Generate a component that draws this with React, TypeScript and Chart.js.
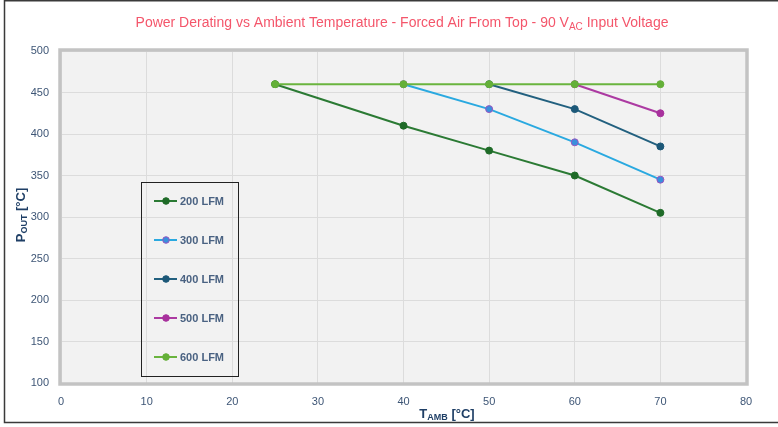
import React, { useEffect, useRef } from "react";
import { Chart, registerables } from "chart.js";

Chart.register(...registerables);

const seriesNames = ["200 LFM", "300 LFM", "400 LFM", "500 LFM", "600 LFM"];
const temps200 = [25, 40, 50, 60, 70];
const pout200 = [460, 410, 380, 350, 305];
const temps300 = [40, 50, 60, 70];
const pout300 = [460, 430, 390, 345];
const temps400 = [50, 60, 70];
const pout400 = [460, 430, 385];
const temps500 = [60, 70];
const pout500 = [460, 425];
const temps600 = [25, 40, 50, 60, 70];
const pout600 = [460, 460, 460, 460, 460];

const lineColors = ["#2b7a34", "#2aa9e0", "#22607f", "#ac3aa2", "#6ab43e"];
const pointFills = ["#1f6b28", "#3a8fdc", "#1c5878", "#a8319d", "#64b038"];
const pointBorders = ["#1f6b28", "#9a55c0", "#1c5878", "#a8319d", "#64b038"];

const xTicks = [0, 10, 20, 30, 40, 50, 60, 70, 80];
const yTicks = [100, 150, 200, 250, 300, 350, 400, 450, 500];

const FONT = "'Liberation Sans', Arial, sans-serif";
const TEXT_COLOR = "#3e5676";

function pts(xs: number[], ys: number[]) {
  return xs.map((x, i) => ({ x, y: ys[i] }));
}

export default function App() {
  const ref = useRef<HTMLCanvasElement | null>(null);

  useEffect(() => {
    if (!ref.current) return;
    const data = [
      pts(temps200, pout200),
      pts(temps300, pout300),
      pts(temps400, pout400),
      pts(temps500, pout500),
      pts(temps600, pout600),
    ];
    const orders = [5, 4, 3, 2, 1];

    const decor = {
      id: "decor",
      beforeDraw(chart: any) {
        const { ctx, chartArea: a } = chart;
        ctx.save();
        ctx.fillStyle = "#ffffff";
        ctx.fillRect(0, 0, chart.width, chart.height);
        ctx.fillStyle = "#f2f2f2";
        ctx.fillRect(a.left, a.top, a.right - a.left, a.bottom - a.top);
        ctx.restore();
      },
      beforeDatasetsDraw(chart: any) {
        const { ctx, chartArea: a } = chart;
        ctx.save();
        ctx.strokeStyle = "#c3c3c3";
        ctx.lineWidth = 3.5;
        ctx.strokeRect(a.left - 1, a.top - 1, a.right - a.left + 2, a.bottom - a.top + 2);
        ctx.restore();
      },
      afterDraw(chart: any) {
        const { ctx } = chart;
        ctx.save();
        // outer frame
        ctx.strokeStyle = "#3a3a3a";
        ctx.lineWidth = 1.5;
        ctx.beginPath();
        ctx.moveTo(800, 0.75);
        ctx.lineTo(4.5, 0.75);
        ctx.lineTo(4.5, 422.5);
        ctx.lineTo(800, 422.5);
        ctx.stroke();

        // title
        ctx.fillStyle = "#f4566b";
        ctx.textBaseline = "alphabetic";
        const t1 = "Power Derating vs Ambient Temperature - Forced Air From Top - 90 V";
        const sub = "AC";
        const t2 = " Input Voltage";
        ctx.font = `14px ${FONT}`;
        const w1 = ctx.measureText(t1).width;
        const w3 = ctx.measureText(t2).width;
        ctx.font = `10px ${FONT}`;
        const w2 = ctx.measureText(sub).width;
        const total = w1 + w2 + w3;
        let x = 402 - total / 2;
        const by = 27;
        ctx.textAlign = "left";
        ctx.font = `14px ${FONT}`;
        ctx.fillText(t1, x, by);
        x += w1;
        ctx.font = `10px ${FONT}`;
        ctx.fillText(sub, x, by + 3);
        x += w2;
        ctx.font = `14px ${FONT}`;
        ctx.fillText(t2, x, by);

        // x axis title
        ctx.fillStyle = "#1f3f66";
        {
          const a1 = "T";
          const s1 = "AMB";
          const a2 = " [°C]";
          ctx.font = `bold 13px ${FONT}`;
          const wa = ctx.measureText(a1).width;
          const wc = ctx.measureText(a2).width;
          ctx.font = `bold 9px ${FONT}`;
          const wb = ctx.measureText(s1).width;
          let xx = 447 - (wa + wb + wc) / 2;
          const yy = 418;
          ctx.font = `bold 13px ${FONT}`;
          ctx.fillText(a1, xx, yy);
          xx += wa;
          ctx.font = `bold 9px ${FONT}`;
          ctx.fillText(s1, xx, yy + 2);
          xx += wb;
          ctx.font = `bold 13px ${FONT}`;
          ctx.fillText(a2, xx, yy);
        }
        // y axis title
        {
          ctx.save();
          ctx.translate(25, 215);
          ctx.rotate(-Math.PI / 2);
          const a1 = "P";
          const s1 = "OUT";
          const a2 = " [°C]";
          ctx.font = `bold 13px ${FONT}`;
          const wa = ctx.measureText(a1).width;
          const wc = ctx.measureText(a2).width;
          ctx.font = `bold 9px ${FONT}`;
          const wb = ctx.measureText(s1).width;
          let xx = -(wa + wb + wc) / 2;
          ctx.font = `bold 13px ${FONT}`;
          ctx.fillText(a1, xx, 0);
          xx += wa;
          ctx.font = `bold 9px ${FONT}`;
          ctx.fillText(s1, xx, 2);
          xx += wb;
          ctx.font = `bold 13px ${FONT}`;
          ctx.fillText(a2, xx, 0);
          ctx.restore();
        }

        // legend
        ctx.strokeStyle = "#222222";
        ctx.lineWidth = 1;
        ctx.strokeRect(141.5, 182.5, 97, 194);
        const ys = [201, 240, 279, 318, 357];
        seriesNames.forEach((name, i) => {
          const y = ys[i];
          ctx.strokeStyle = lineColors[i];
          ctx.lineWidth = 2;
          ctx.beginPath();
          ctx.moveTo(154, y);
          ctx.lineTo(177, y);
          ctx.stroke();
          ctx.beginPath();
          ctx.arc(166, y, 3.3, 0, Math.PI * 2);
          ctx.fillStyle = pointFills[i];
          ctx.fill();
          ctx.lineWidth = 1;
          ctx.strokeStyle = pointBorders[i];
          ctx.stroke();
          ctx.fillStyle = "#4a6282";
          ctx.font = `bold 11px ${FONT}`;
          ctx.textAlign = "left";
          ctx.textBaseline = "middle";
          ctx.fillText(name, 180, y + 0.5);
        });
        ctx.restore();
      },
    };

    const chart = new Chart(ref.current, {
      type: "scatter",
      data: {
        datasets: data.map((d, i) => ({
          label: seriesNames[i],
          data: d,
          showLine: true,
          borderColor: lineColors[i],
          borderWidth: 2,
          pointRadius: 3.5,
          pointBackgroundColor: pointFills[i],
          pointBorderColor: pointBorders[i],
          pointBorderWidth: 1,
          order: orders[i],
        })),
      },
      options: {
        responsive: false,
        animation: false,
        events: [],
        layout: { padding: { left: 0, right: 32, top: 51, bottom: 0 } },
        plugins: {
          legend: { display: false },
          tooltip: { enabled: false },
          title: { display: false },
        },
        scales: {
          x: {
            type: "linear",
            min: 0,
            max: 80,
            afterBuildTicks: (axis: any) => {
              axis.ticks = xTicks.map((v) => ({ value: v }));
            },
            afterFit: (axis: any) => {
              axis.height = 44;
            },
            grid: { color: "#dcdcdc", lineWidth: 1, drawTicks: false },
            border: { display: false },
            ticks: {
              color: TEXT_COLOR,
              font: { family: FONT, size: 11 },
              padding: 12,
              maxRotation: 0,
            },
          },
          y: {
            type: "linear",
            min: 100,
            max: 500,
            afterBuildTicks: (axis: any) => {
              axis.ticks = yTicks.map((v) => ({ value: v }));
            },
            afterFit: (axis: any) => {
              axis.width = 61;
            },
            grid: { color: "#dcdcdc", lineWidth: 1, drawTicks: false },
            border: { display: false },
            ticks: {
              color: TEXT_COLOR,
              font: { family: FONT, size: 11 },
              padding: 12,
            },
          },
        },
      },
      plugins: [decor],
    } as any);
    return () => chart.destroy();
  }, []);

  return (
    <div style={{ position: "absolute", left: 0, top: 0, width: 778, height: 427 }}>
      <canvas ref={ref} width={778} height={427} style={{ width: 778, height: 427 }} />
    </div>
  );
}
